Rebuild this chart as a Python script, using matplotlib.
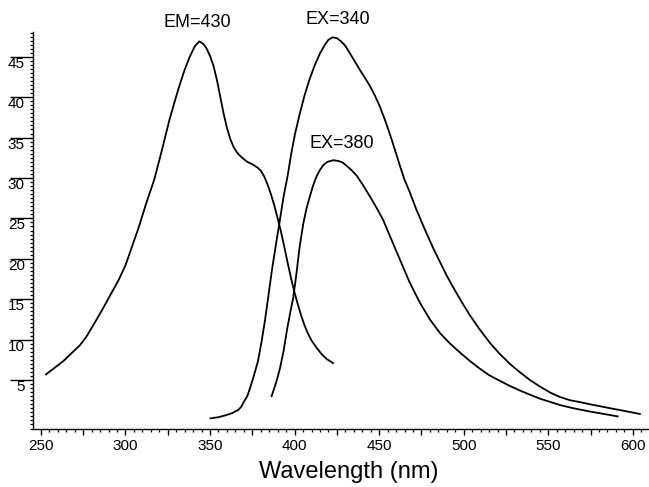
import numpy as np
import matplotlib.pyplot as plt
from matplotlib.ticker import MultipleLocator, FuncFormatter

plt.rcParams["font.family"] = ["Liberation Sans", "DejaVu Sans"]

# excitation spectrum, emission monitored at 430 nm
em430_x = [253, 258, 263, 268, 273, 277, 281, 286, 291, 296, 300, 304, 308, 312,
           317, 321, 326, 329, 332, 335, 338, 341, 343.6, 346, 348, 350, 352,
           354, 356, 358, 360, 362, 364, 366.5, 369, 372, 375, 378, 380, 382,
           384, 386, 388, 390, 392, 394, 396, 398, 400, 402, 404, 406, 408,
           410, 413, 416, 419, 422.7]
em430_y = [5.7, 6.5, 7.3, 8.3, 9.3, 10.4, 11.8, 13.6, 15.5, 17.4, 19.2, 21.6, 24.0, 26.7,
           29.8, 33.0, 37.2, 39.4, 41.5, 43.4, 45.0, 46.3, 46.9, 46.6, 46.0, 45.1, 43.9,
           42.2, 40.1, 38.0, 36.2, 34.8, 33.8, 33.0, 32.5, 32.0, 31.7, 31.3, 30.9, 30.2,
           29.2, 28.0, 26.6, 25.0, 23.3, 21.4, 19.4, 17.5, 15.8, 14.3, 12.9, 11.7, 10.7,
           9.9, 9.0, 8.2, 7.6, 7.1]

# emission spectrum, excitation at 340 nm
ex340_x = [350.3, 355, 359.8, 363, 366.7, 368.5, 370, 372, 374, 376, 378.3, 380.5,
           382.5, 384.5, 386.6, 389, 391.3, 393.5, 396, 398, 400.2, 403, 406, 409,
           412, 415, 418, 420, 422.5, 425, 427.5, 429.8, 432.5, 435.7, 438.5, 441.6,
           444.5, 447.5, 450.5, 453.4, 456.4, 459.3, 462.3, 465, 468.2, 472, 477.1,
           482, 486, 490, 494.8, 499, 503.7, 509, 515.5, 521, 527.3, 533, 539.2,
           545, 551.6, 557, 562.8, 568, 574.7, 582, 589.4, 597, 604.2]
ex340_y = [0.26, 0.4, 0.67, 0.9, 1.3, 1.7, 2.3, 3.0, 4.2, 5.6, 7.3, 9.8,
           12.4, 15.4, 18.6, 21.8, 24.8, 27.7, 30.4, 33.0, 35.4, 37.9, 40.3, 42.3,
           44.0, 45.4, 46.5, 47.1, 47.4, 47.3, 46.9, 46.4, 45.5, 44.4, 43.4, 42.4,
           41.4, 40.2, 38.8, 37.2, 35.4, 33.5, 31.5, 29.8, 28.2, 26.1, 23.6,
           21.3, 19.6, 17.9, 16.1, 14.6, 13.0, 11.4, 9.6, 8.3, 7.0, 6.0, 5.0,
           4.2, 3.4, 2.9, 2.5, 2.3, 2.0, 1.7, 1.4, 1.1, 0.8]

# emission spectrum, excitation at 380 nm
ex380_x = [386.4, 388, 389.5, 391.3, 393.5, 395.5, 397.3, 399.2, 401, 403, 405.1,
           407, 409, 411, 413, 415, 417, 419.5, 422.9, 426, 428.5, 430.8, 433.5,
           436.7, 440.5, 444.6, 448.5, 452.4, 457, 462.3, 468, 474, 480, 486, 492,
           497.8, 504, 509.6, 515, 521.4, 527, 533.3, 539, 545, 551, 557, 565,
           574.7, 583, 591]
ex380_y = [3.0, 4.0, 5.0, 6.4, 8.6, 11.2, 13.2, 15.2, 18.0, 21.5, 24.3,
           26.2, 27.7, 29.1, 30.2, 31.0, 31.6, 32.0, 32.2, 32.1, 31.9, 31.5, 31.0,
           30.3, 29.1, 27.7, 26.3, 24.8, 22.5, 19.9, 17.1, 14.6, 12.5, 10.8, 9.5,
           8.4, 7.3, 6.4, 5.6, 4.9, 4.3, 3.7, 3.2, 2.7, 2.3, 1.9, 1.5,
           1.1, 0.8, 0.5]

fig = plt.figure(figsize=(6.49, 4.87), dpi=100)
ax = fig.add_axes([33 / 649, 1 - 429 / 487, 615 / 649, 397.3 / 487])

for xs, ys in [(em430_x, em430_y), (ex340_x, ex340_y), (ex380_x, ex380_y)]:
    ax.plot(xs, ys, color="black", linewidth=1.3, solid_joinstyle="round")

ax.text(342.3, 49.3, "EM=430", fontsize=13, ha="center", va="center", clip_on=False)
ax.text(425.6, 49.6, "EX=340", fontsize=13, ha="center", va="center", clip_on=False)
ax.text(428, 34.3, "EX=380", fontsize=13, ha="center", va="center")

ax.set_xlim(245.3, 609)
ax.set_ylim(-1.06, 48.1)

for s in ["top", "right"]:
    ax.spines[s].set_visible(False)
ax.spines["left"].set_linewidth(1.0)
ax.spines["bottom"].set_linewidth(1.0)

# x axis: long ticks every 25, labels every 50, short ticks every 5
ax.xaxis.set_major_locator(MultipleLocator(25))
ax.xaxis.set_minor_locator(MultipleLocator(5))
ax.xaxis.set_major_formatter(FuncFormatter(lambda v, p: f"{v:.0f}" if v % 50 == 0 else ""))
ax.tick_params(axis="x", which="major", direction="out", length=4.3, width=1.0,
               labelsize=11, pad=3)
ax.tick_params(axis="x", which="minor", direction="out", length=2.2, width=0.9)

# y axis: long bars with the number hanging beneath
ax.set_yticks(np.arange(5, 50, 5))
ax.yaxis.set_minor_locator(MultipleLocator(0.5))
ax.tick_params(axis="y", which="major", direction="out", length=16.6, width=1.0,
               labelsize=11, pad=-10.8)
ax.tick_params(axis="y", which="minor", direction="out", length=2.2, width=0.9)
plt.setp(ax.get_yticklabels(), va="top")

ax.set_xlabel("Wavelength (nm)", fontsize=17, va="center")
ax.xaxis.set_label_coords(0.514, -0.108)

fig.savefig("out.png", dpi=100)
